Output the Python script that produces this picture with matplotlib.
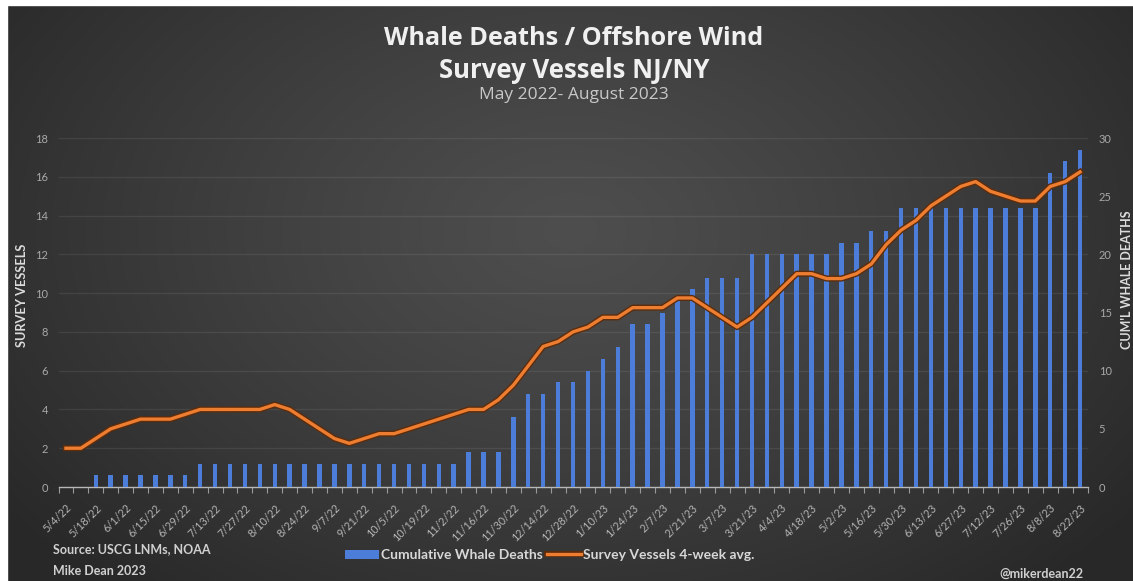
import numpy as np
import matplotlib
matplotlib.use("Agg")
import matplotlib.pyplot as plt
from matplotlib import patheffects as pe
from matplotlib.lines import Line2D
from matplotlib.patches import Patch, Rectangle

plt.rcParams['font.family'] = ['Lato', 'DejaVu Sans']

# Weekly cumulative whale deaths (right axis)
whale_deaths = [0, 0, 1, 1, 1, 1, 1, 1, 1,
                2, 2, 2, 2, 2, 2, 2, 2, 2, 2, 2, 2, 2, 2, 2, 2, 2, 2,
                3, 3, 3, 6, 8, 8, 9, 9, 10, 11, 12, 14, 14, 15, 16, 17,
                18, 18, 18, 20, 20, 20, 20, 20, 20, 21, 21, 22, 22,
                24, 24, 24, 24, 24, 24, 24, 24, 24, 24, 27, 28, 29]

# Survey vessels, 4-week rolling average (left axis)
survey_vessels = [2.0, 2.0, 2.5, 3.0, 3.25, 3.5, 3.5, 3.5, 3.75, 4.0,
                  4.0, 4.0, 4.0, 4.0, 4.25, 4.0, 3.5, 3.0, 2.5, 2.25,
                  2.5, 2.75, 2.75, 3.0, 3.25, 3.5, 3.75, 4.0, 4.0, 4.5,
                  5.25, 6.25, 7.25, 7.5, 8.0, 8.25, 8.75, 8.75, 9.25, 9.25,
                  9.25, 9.75, 9.75, 9.25, 8.75, 8.25, 8.75, 9.5, 10.25, 11.0,
                  11.0, 10.75, 10.75, 11.0, 11.5, 12.5, 13.25, 13.75, 14.5, 15.0,
                  15.5, 15.75, 15.25, 15.0, 14.75, 14.75, 15.5, 15.75, 16.25]

# Labels shown on every other week
date_labels = ['5/4/22', '5/18/22', '6/1/22', '6/15/22', '6/29/22', '7/13/22',
               '7/27/22', '8/10/22', '8/24/22', '9/7/22', '9/21/22', '10/5/22',
               '10/19/22', '11/2/22', '11/16/22', '11/30/22', '12/14/22',
               '12/28/22', '1/10/23', '1/24/23', '2/7/23', '2/21/23', '3/7/23',
               '3/21/23', '4/4/23', '4/18/23', '5/2/23', '5/16/23', '5/30/23',
               '6/13/23', '6/27/23', '7/12/23', '7/26/23', '8/8/23', '8/22/23']

W, H = 1133, 581
fig = plt.figure(figsize=(W / 100, H / 100), dpi=100)

# Dark radial background
bg = fig.add_axes([0, 0, 1, 1], zorder=-10)
yy, xx = np.mgrid[0:H, 0:W]
r = np.sqrt(((xx - 570) / 700) ** 2 + ((yy - 230) / 470) ** 2)
r = np.clip(r, 0, 1)
c = 0.305 - (0.305 - 0.16) * r ** 1.2
bg.imshow(np.dstack([c, c, c]), extent=[0, W, H, 0], aspect='auto', origin='upper')
bg.set_xlim(0, W)
bg.set_ylim(H, 0)
bg.axis('off')
bg.add_patch(Rectangle((0, 0), W, 5, color='white'))
bg.add_patch(Rectangle((0, 0), 7, H, color='white'))

n = len(whale_deaths)
x = np.arange(n)

rect = [58.5 / W, 1 - 487 / H, 1029 / W, 349 / H]
ax = fig.add_axes(rect)
ax.patch.set_visible(False)
ax.set_xlim(-0.5, n - 0.5)
ax.set_ylim(0, 18)
ax.set_yticks(range(0, 19, 2))
ax.grid(axis='y', color='white', alpha=0.08, lw=0.9)
ax.set_axisbelow(True)
for s in ['top', 'left', 'right']:
    ax.spines[s].set_visible(False)
ax.spines['bottom'].set_color('#b8b8b8')
ax.spines['bottom'].set_linewidth(1.0)
ax.tick_params(axis='y', length=0, pad=7.5, labelsize=8, labelcolor='#a8a8a8')
ax.set_xticks(x[::2])
ax.set_xticklabels(date_labels, rotation=45, ha='right', va='top',
                   rotation_mode='anchor', fontsize=7.8, color='#b4b4b4')
ax.tick_params(axis='x', which='major', length=0, pad=11)
ax.set_xticks(np.arange(-0.5, n, 1), minor=True)
ax.tick_params(axis='x', which='minor', length=4, color='#9a9a9a', width=0.8)

# Bars on the right-hand scale
axb = ax.twinx()
axb.set_zorder(ax.get_zorder() + 1)
axb.patch.set_visible(False)
axb.set_ylim(0, 30)
axb.set_yticks(range(0, 31, 5))
axb.tick_params(axis='y', length=0, pad=8, labelsize=8, labelcolor='#a8a8a8')
for s in axb.spines.values():
    s.set_visible(False)
bar_color = '#4c7ed9'
axb.bar(x, whale_deaths, width=0.3, color=bar_color, zorder=2)

# Vessel line on top
axl = ax.twinx()
axl.set_zorder(axb.get_zorder() + 1)
axl.patch.set_visible(False)
axl.set_ylim(0, 18)
axl.set_yticks([])
for s in axl.spines.values():
    s.set_visible(False)
line_fx = [pe.Stroke(linewidth=4.4, foreground='#5c2c0c'), pe.Normal()]
axl.plot(x, survey_vessels, color='#ED7D31', lw=2.4, solid_joinstyle='round',
         path_effects=line_fx)

# Titles
title_font = ['Open Sans', 'DejaVu Sans']
fig.text(574 / W, 1 - 38.5 / H, 'Whale Deaths / Offshore Wind', ha='center', va='center',
         fontsize=18.2, fontweight='bold', color='#f0f0f0', family=title_font)
fig.text(574 / W, 1 - 71 / H, 'Survey Vessels NJ/NY', ha='center', va='center',
         fontsize=18.5, fontweight='bold', color='#f0f0f0', family=title_font)
fig.text(574 / W, 1 - 95 / H, 'May 2022- August 2023', ha='center', va='center',
         fontsize=12.5, color='#c8c8c8', family=title_font)

# Axis titles
fig.text(22 / W, 1 - 295 / H, 'SURVEY VESSELS', rotation=90, ha='center', va='center',
         fontsize=9.2, fontweight='bold', color='#dcdcdc')
fig.text(1127 / W, 1 - 280 / H, "CUM'L WHALE DEATHS", rotation=90, ha='center',
         va='center', fontsize=9, fontweight='bold', color='#dcdcdc')

# Legend
handles = [Patch(facecolor=bar_color, edgecolor='none'),
           Line2D([0], [0], color='#ED7D31', lw=2.4, path_effects=line_fx)]
fig.legend(handles, ['Cumulative Whale Deaths', 'Survey Vessels 4-week avg.'],
           loc='center', bbox_to_anchor=(550 / W, 1 - 555 / H), ncol=2, frameon=False,
           prop={'size': 10, 'weight': 'bold'}, labelcolor='#d8d8d8',
           handlelength=2.4, handleheight=0.6, handletextpad=0.2, columnspacing=0.3)

# Credits
fig.text(53 / W, 1 - 549 / H, 'Source: USCG LNMs, NOAA', ha='left', va='center',
         fontsize=9, fontweight='bold', color='#d0d0d0')
fig.text(53 / W, 1 - 571 / H, 'Mike Dean 2023', ha='left', va='center',
         fontsize=9, fontweight='bold', color='#d0d0d0')
fig.text(1084 / W, 1 - 574 / H, '@mikerdean22', ha='right', va='center',
         fontsize=9, fontweight='bold', color='#d0d0d0')

fig.savefig('out.png', dpi=100)
